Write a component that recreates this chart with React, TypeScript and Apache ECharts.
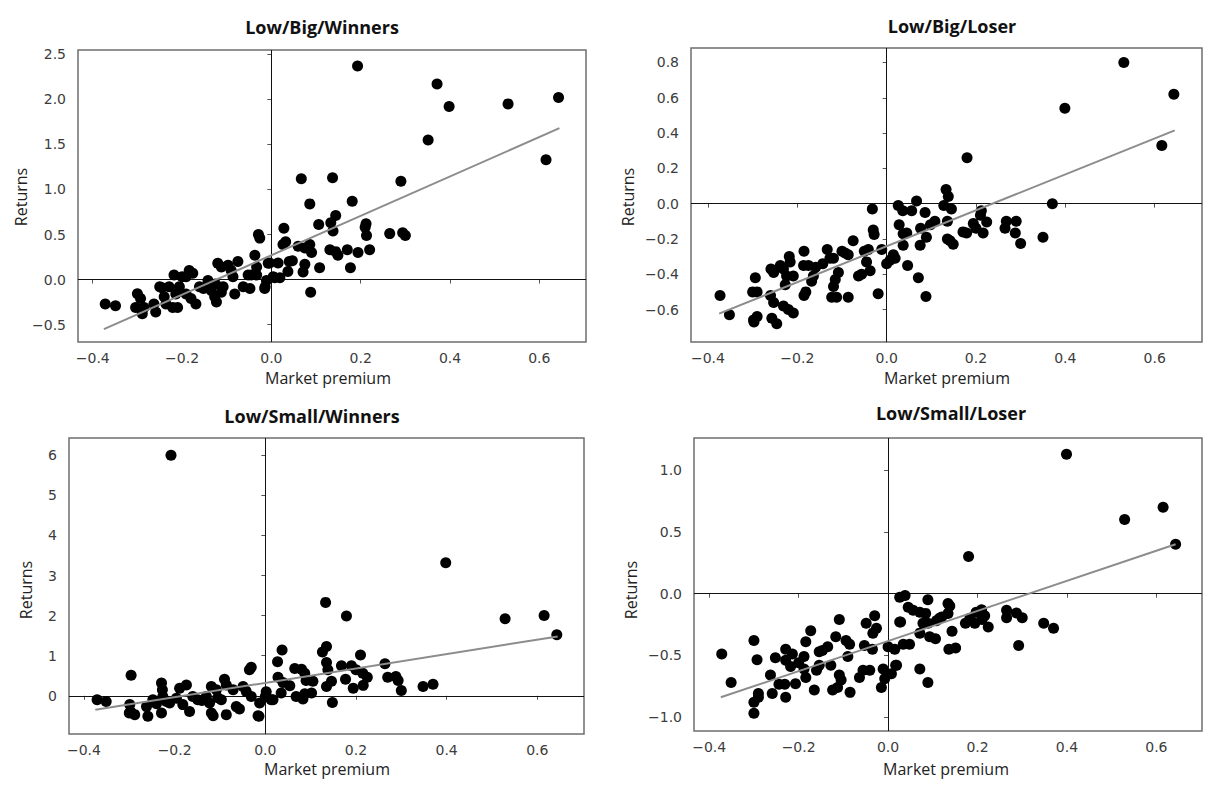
import React, { useEffect, useRef } from "react";
import * as echarts from "echarts";

// ---------- data ----------
const panelTitles = ["Low/Big/Winners", "Low/Big/Loser", "Low/Small/Winners", "Low/Small/Loser"];
const xLabel = "Market premium";
const yLabel = "Returns";
const xTicks = [-0.4, -0.2, 0.0, 0.2, 0.4, 0.6];
const yTicks1 = [-0.5, 0.0, 0.5, 1.0, 1.5, 2.0, 2.5];
const yTicks2 = [-0.6, -0.4, -0.2, 0.0, 0.2, 0.4, 0.6, 0.8];
const yTicks3 = [0, 1, 2, 3, 4, 5, 6];
const yTicks4 = [-1.0, -0.5, 0.0, 0.5, 1.0];

// Low/Big/Winners
const p1X = [-0.372, -0.349, -0.3, -0.293, -0.304, -0.289, -0.285, -0.259, -0.263, -0.25, -0.24, -0.236, -0.229, -0.218, -0.221, -0.21, -0.214, -0.206, -0.191, -0.184, -0.176, -0.191, -0.18, -0.169, -0.161, -0.152, -0.142, -0.135, -0.127, -0.123, -0.12, -0.112, -0.108, -0.112, -0.097, -0.09, -0.086, -0.075, -0.082, -0.063, -0.052, -0.048, -0.037, -0.033, -0.029, -0.026, -0.033, -0.014, -0.011, -0.007,
  0.193, 0.371, 0.398, 0.53, 0.643, 0.351, 0.615, 0.067, 0.137, 0.29, 0.086, 0.181, 0.144, 0.106, 0.133, 0.138, 0.212, 0.213, 0.265, 0.294, 0.3, 0.028, 0.032, 0.026, 0.06, 0.086, 0.09, 0.131, 0.144, 0.149, 0.17, 0.194, 0.22, 0.047, 0.04, 0.015, -0.004, 0.075, 0.071, 0.108, 0.177, 0.037, 0.0075, 0.019, -0.015, 0.088, -0.045, 0.21, 0.075, 0.004, -0.2, -0.125, -0.245];
const p1Y = [-0.27, -0.29, -0.157, -0.21, -0.31, -0.38, -0.31, -0.36, -0.27, -0.08, -0.19, -0.27, -0.08, 0.05, -0.31, -0.31, -0.16, -0.08, 0.03, 0.1, 0.07, -0.16, -0.21, -0.27, -0.08, -0.1, -0.01, -0.12, -0.19, -0.25, 0.18, 0.14, -0.08, -0.14, 0.16, 0.1, 0.03, 0.2, -0.16, -0.08, 0.05, -0.1, 0.27, 0.14, 0.5, 0.46, 0.05, -0.08, -0.01, 0.18,
  2.37, 2.17, 1.92, 1.95, 2.02, 1.55, 1.33, 1.12, 1.13, 1.09, 0.84, 0.87, 0.71, 0.61, 0.63, 0.54, 0.62, 0.49, 0.51, 0.52, 0.49, 0.57, 0.42, 0.39, 0.37, 0.39, 0.3, 0.33, 0.31, 0.27, 0.33, 0.3, 0.33, 0.21, 0.2, 0.185, 0.185, 0.17, 0.085, 0.13, 0.13, 0.09, 0.02, 0.02, -0.1, -0.14, 0.05, 0.58, 0.35, 0.03, 0.03, -0.05, -0.09];
const p1FitX = [-0.375, 0.645];
const p1FitY = [-0.55, 1.68];

// Low/Big/Loser
const p2X = [-0.373, -0.352, -0.294, -0.3, -0.29, -0.298, -0.297, -0.29, -0.259, -0.253, -0.26, -0.257, -0.246, -0.253, -0.238, -0.231, -0.227, -0.231, -0.224, -0.209, -0.218, -0.216, -0.209, -0.22, -0.185, -0.186, -0.175, -0.185, -0.181, -0.168, -0.164, -0.159, -0.143, -0.133, -0.127, -0.119, -0.123, -0.112, -0.119, -0.115, -0.108, -0.1, -0.093, -0.086, -0.086, -0.075, -0.063, -0.056, -0.05, -0.041, -0.045, -0.037, -0.032, -0.03, -0.028, -0.019, -0.011, 0.0, 0.008, 0.015, 0.019,
  0.531, 0.643, 0.399, 0.616, 0.18, 0.371, 0.35, 0.3, 0.29, 0.288, 0.268, 0.265, 0.224, 0.216, 0.212, 0.21, 0.194, 0.2, 0.171, 0.179, 0.145, 0.138, 0.133, 0.128, 0.136, 0.136, 0.149, 0.108, 0.089, 0.086, 0.076, 0.067, 0.075, 0.056, 0.036, 0.026, 0.028, 0.037, 0.045, 0.037, 0.047, 0.071, 0.088, 0.142, 0.098];
const p2Y = [-0.52, -0.63, -0.42, -0.5, -0.5, -0.66, -0.67, -0.64, -0.37, -0.39, -0.52, -0.65, -0.68, -0.56, -0.35, -0.37, -0.46, -0.58, -0.41, -0.41, -0.3, -0.33, -0.62, -0.6, -0.27, -0.35, -0.35, -0.52, -0.5, -0.44, -0.41, -0.36, -0.34, -0.26, -0.31, -0.31, -0.53, -0.53, -0.47, -0.43, -0.39, -0.27, -0.28, -0.29, -0.53, -0.21, -0.41, -0.4, -0.27, -0.26, -0.33, -0.38, -0.03, -0.15, -0.175, -0.51, -0.26, -0.34, -0.32, -0.29, -0.31,
  0.8, 0.62, 0.54, 0.33, 0.26, 0.0, -0.19, -0.226, -0.1, -0.166, -0.1, -0.14, -0.104, -0.166, -0.04, -0.066, -0.113, -0.14, -0.16, -0.166, -0.03, 0.04, 0.08, -0.01, -0.1, -0.2, -0.23, -0.1, -0.19, -0.05, -0.14, 0.015, -0.236, -0.04, -0.04, -0.01, -0.12, -0.17, -0.166, -0.236, -0.35, -0.42, -0.526, -0.21, -0.12];
const p2FitX = [-0.375, 0.645];
const p2FitY = [-0.623, 0.415];

// Low/Small/Winners
const p3X = [-0.371, -0.351, -0.296, -0.299, -0.296, -0.288, -0.3, -0.259, -0.262, -0.248, -0.229, -0.229, -0.227, -0.226, -0.211, -0.218, -0.196, -0.189, -0.174, -0.182, -0.167, -0.16, -0.149, -0.13, -0.123, -0.119, -0.115, -0.119, -0.108, -0.097, -0.09, -0.086, -0.086, -0.064, -0.057, -0.071, -0.049, -0.035, -0.031, -0.042, -0.031, -0.016, -0.0125, 0.002, 0.017, -0.14, -0.105, -0.24, -0.208,
  0.398, 0.133, 0.179, 0.529, 0.615, 0.643, 0.037, 0.135, 0.126, 0.027, 0.21, 0.065, 0.08, 0.087, 0.135, 0.138, 0.168, 0.19, 0.2, 0.264, 0.215, 0.225, 0.27, 0.288, 0.293, 0.3, 0.348, 0.37, 0.177, 0.194, 0.216, 0.148, 0.135, 0.146, 0.028, 0.039, 0.054, 0.105, 0.09, 0.068, 0.083, 0.087, 0.102, 0.035, 0.013, 0.0, -0.014];
const p3Y = [-0.1, -0.14, 0.51, -0.22, -0.41, -0.47, -0.43, -0.51, -0.27, -0.1, -0.43, 0.32, 0.15, -0.02, -0.18, -0.14, -0.06, 0.19, 0.27, -0.22, -0.39, -0.02, -0.1, -0.02, -0.18, -0.43, -0.5, 0.23, 0.15, -0.1, 0.41, 0.27, -0.47, -0.27, -0.33, 0.15, 0.23, 0.65, 0.71, 0.11, -0.02, -0.5, -0.18, 0.1, -0.1, -0.12, -0.05, -0.2, 6.0,
  3.32, 2.33, 1.99, 1.92, 2.0, 1.52, 1.14, 1.23, 1.09, 0.85, 1.02, 0.68, 0.66, 0.56, 0.83, 0.65, 0.75, 0.75, 0.65, 0.8, 0.56, 0.46, 0.46, 0.48, 0.38, 0.13, 0.23, 0.29, 0.41, 0.19, 0.26, -0.17, 0.23, 0.36, 0.46, 0.33, 0.25, 0.36, 0.38, -0.02, -0.08, 0.05, 0.07, 0.07, -0.1, -0.02, -0.51];
const p3FitX = [-0.375, 0.645];
const p3FitY = [-0.35, 1.48];

// Low/Small/Loser
const p4X = [-0.372, -0.351, -0.3, -0.293, -0.3, -0.3, -0.29, -0.29, -0.259, -0.263, -0.252, -0.244, -0.231, -0.229, -0.229, -0.229, -0.218, -0.214, -0.207, -0.188, -0.184, -0.184, -0.188, -0.173, -0.165, -0.154, -0.154, -0.147, -0.135, -0.117, -0.128, -0.124, -0.113, -0.109, -0.105, -0.109, -0.094, -0.086, -0.09, -0.085, -0.064, -0.056, -0.053, -0.049, -0.041, -0.035, -0.034, -0.026, -0.03, -0.015, -0.0075, -0.011, 0.0, 0.0075, 0.019, 0.026, 0.038, 0.026, -0.16, -0.2,
  0.399, 0.529, 0.615, 0.643, 0.18, 0.045, 0.056, 0.071, 0.089, 0.084, 0.028, 0.071, 0.078, 0.093, 0.106, 0.089, 0.108, 0.115, 0.134, 0.138, 0.134, 0.143, 0.136, 0.151, 0.173, 0.183, 0.197, 0.209, 0.194, 0.216, 0.224, 0.265, 0.265, 0.287, 0.3, 0.292, 0.348, 0.37, 0.071, 0.089, 0.017, 0.034, 0.048, 0.015, 0.21, 0.12];
const p4Y = [-0.49, -0.72, -0.38, -0.535, -0.97, -0.88, -0.84, -0.81, -0.81, -0.66, -0.52, -0.735, -0.735, -0.45, -0.84, -0.54, -0.59, -0.49, -0.73, -0.51, -0.39, -0.68, -0.61, -0.3, -0.78, -0.47, -0.58, -0.46, -0.43, -0.35, -0.58, -0.78, -0.76, -0.66, -0.7, -0.21, -0.38, -0.41, -0.51, -0.8, -0.68, -0.62, -0.42, -0.24, -0.62, -0.45, -0.32, -0.28, -0.18, -0.76, -0.69, -0.61, -0.43, -0.65, -0.58, -0.03, -0.015, -0.23, -0.62, -0.56,
  1.13, 0.6, 0.7, 0.4, 0.3, -0.11, -0.135, -0.15, -0.05, -0.16, -0.23, -0.32, -0.24, -0.35, -0.365, -0.24, -0.22, -0.2, -0.08, -0.1, -0.16, -0.305, -0.45, -0.44, -0.24, -0.2, -0.15, -0.13, -0.24, -0.18, -0.27, -0.135, -0.195, -0.157, -0.195, -0.42, -0.24, -0.28, -0.61, -0.72, -0.58, -0.41, -0.41, -0.45, -0.21, -0.19];
const p4FitX = [-0.374, 0.643];
const p4FitY = [-0.84, 0.4];

// ---------- layout ----------
const grids = [
  { left: 78, top: 50, width: 508, height: 292, xMin: -0.433, xMax: 0.7045, yMin: -0.693, yMax: 2.548, dec: 1 },
  { left: 691, top: 48, width: 511, height: 294, xMin: -0.438, xMax: 0.706, yMin: -0.784, yMax: 0.882, dec: 1 },
  { left: 69, top: 438, width: 515, height: 296, xMin: -0.433, xMax: 0.703, yMin: -0.953, yMax: 6.43, dec: 0 },
  { left: 694, top: 438, width: 508, height: 293, xMin: -0.434, xMax: 0.702, yMin: -1.113, yMax: 1.261, dec: 1 },
];
const titlePos = [[322, 27], [952, 26], [312, 416], [951, 413]];
const xNamePos = [[328, 378], [947, 378], [327, 769], [946, 769]];
const yNamePos = [[21, 197], [628, 197], [26, 590], [631, 590]];

const fmt = (dec: number) => (v: number) => (v < 0 ? "\u2212" : "") + Math.abs(v).toFixed(dec);

export default function App() {
  const ref = useRef<HTMLDivElement>(null);
  useEffect(() => {
    if (!ref.current) return;
    const chart = echarts.init(ref.current, undefined, { renderer: "svg" });
    const xs = [p1X, p2X, p3X, p4X];
    const ys = [p1Y, p2Y, p3Y, p4Y];
    const fx = [p1FitX, p2FitX, p3FitX, p4FitX];
    const fy = [p1FitY, p2FitY, p3FitY, p4FitY];
    const yTicks = [yTicks1, yTicks2, yTicks3, yTicks4];
    const tickFont = { fontFamily: "DejaVu Sans", fontSize: 14, color: "#3c3c3c" };

    const series: any[] = [];
    grids.forEach((g, i) => {
      series.push({
        type: "scatter",
        xAxisIndex: i,
        yAxisIndex: i,
        data: xs[i].map((x, k) => [x, ys[i][k]]),
        symbol: "circle",
        symbolSize: 11,
        itemStyle: { color: "#000000", opacity: 1 },
        z: 3,
        emphasis: { disabled: true },
        markLine: {
          silent: true,
          symbol: "none",
          label: { show: false },
          lineStyle: { color: "#111", width: 1, type: "solid" },
          data: [{ xAxis: 0 }, { yAxis: 0 }],
          z: 1,
        },
      });
      series.push({
        type: "line",
        xAxisIndex: i,
        yAxisIndex: i,
        data: fx[i].map((x, k) => [x, fy[i][k]]),
        showSymbol: false,
        symbol: "none",
        lineStyle: { color: "#8c8c8c", width: 2 },
        z: 4,
        emphasis: { disabled: true },
      });
    });

    const graphics: any[] = [];
    panelTitles.forEach((t, i) => {
      graphics.push({
        type: "text", x: titlePos[i][0], y: titlePos[i][1],
        style: { text: t, fontFamily: "Open Sans", fontWeight: "bold", fontSize: 18, fill: "#111", align: "center", verticalAlign: "middle" },
      });
      graphics.push({
        type: "text", x: xNamePos[i][0], y: xNamePos[i][1],
        style: { text: xLabel, fontFamily: "Open Sans", fontSize: 16, fill: "#222", align: "center", verticalAlign: "middle" },
      });
      graphics.push({
        type: "text", x: yNamePos[i][0], y: yNamePos[i][1], rotation: Math.PI / 2,
        style: { text: yLabel, fontFamily: "Open Sans", fontSize: 16, fill: "#222", align: "center", verticalAlign: "middle" },
      });
    });

    chart.setOption({
      animation: false,
      backgroundColor: "#ffffff",
      grid: grids.map((g) => ({
        left: g.left, top: g.top, width: g.width, height: g.height,
        show: true, borderColor: "#6e6e6e", borderWidth: 1.5, backgroundColor: "transparent",
      })),
      xAxis: grids.map((g, i) => ({
        type: "value", gridIndex: i, min: g.xMin, max: g.xMax,
        axisLine: { show: false },
        splitLine: { show: false },
        axisTick: { show: true, length: 4, lineStyle: { color: "#555" }, customValues: xTicks },
        axisLabel: { ...tickFont, margin: 9, formatter: fmt(1), customValues: xTicks },
      })),
      yAxis: grids.map((g, i) => ({
        type: "value", gridIndex: i, min: g.yMin, max: g.yMax,
        axisLine: { show: false },
        splitLine: { show: false },
        axisTick: { show: true, length: 4, lineStyle: { color: "#555" }, customValues: yTicks[i] },
        axisLabel: { ...tickFont, margin: 12, formatter: fmt(g.dec), customValues: yTicks[i] },
      })),
      series,
      graphic: graphics,
    });
    return () => chart.dispose();
  }, []);
  return <div ref={ref} style={{ position: "absolute", left: 0, top: 0, width: 1208, height: 787 }} />;
}
